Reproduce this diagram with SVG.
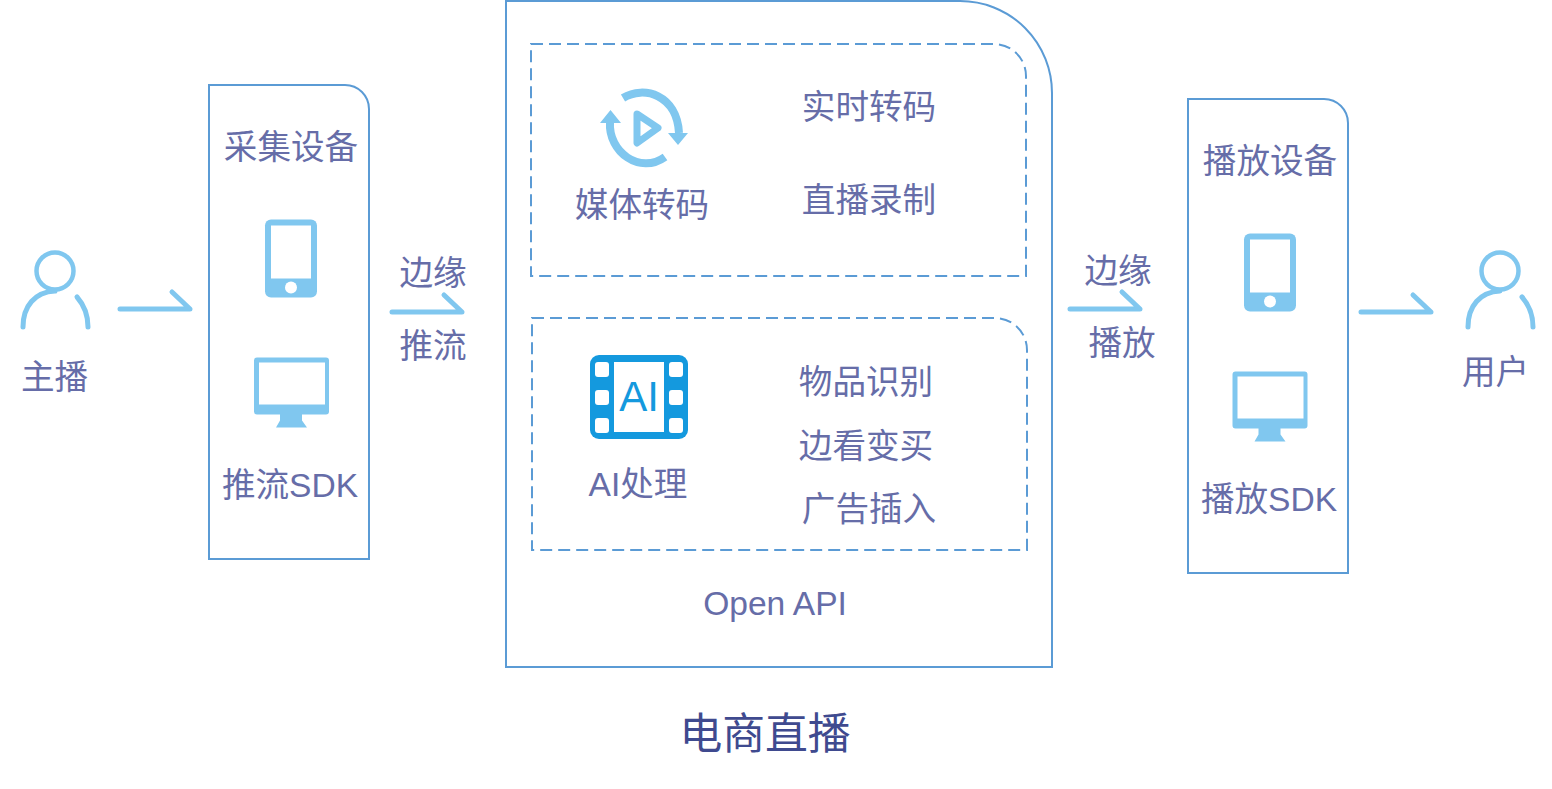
<svg xmlns="http://www.w3.org/2000/svg" width="1552" height="789" viewBox="0 0 1552 789">
<defs>
<style>
.t{font-family:"Liberation Sans","Noto Sans CJK SC",sans-serif;font-size:33.6px;fill:#666da8;text-anchor:middle}
.box{fill:none;stroke:#5b9bd5;stroke-width:2}
.dash{fill:none;stroke:#5b9bd5;stroke-width:2;stroke-dasharray:12 6}
.ln{fill:none;stroke:#80c7ef;stroke-width:5;stroke-linecap:round;stroke-linejoin:round}
.ic{fill:#80c7ef}
</style>
<g id="phone"><rect x="0" y="0" width="52" height="78" rx="6" class="ic"/><rect x="6" y="6" width="40" height="53" fill="#fff"/><circle cx="26" cy="68" r="6" fill="#fff"/></g>
<g id="monitor"><path class="ic" d="M3 0H72a3 3 0 0 1 3 3V54a3 3 0 0 1-3 3H48V63L53 70H22L26 63V57H3a3 3 0 0 1-3-3V3a3 3 0 0 1 3-3Z"/><rect x="5" y="5" width="66" height="42" fill="#fff"/></g>
<g id="person"><circle cx="34" cy="21" r="18.5" fill="none" stroke="#80c7ef" stroke-width="4.5"/><path d="M2 77C2 56 14 42 34 41M56 47C63 55 67 65 67 77" fill="none" stroke="#80c7ef" stroke-width="5" stroke-linecap="round"/></g>
</defs>
<rect width="1552" height="789" fill="#fff"/>
<g id="connectors">
<path class="ln" d="M120 309H190L172 292"/>
<path class="ln" d="M392 312H462L444 295"/>
<path class="ln" d="M1070 309H1140L1122 292"/>
<path class="ln" d="M1361 312H1431L1413 295"/>
</g>
<g id="host"><use href="#person" x="21" y="250"/><text class="t" x="54.500" y="389">主播</text></g>
<g id="capture">
<path class="box" d="M209 85H345A24 24 0 0 1 369 109V559H209Z"/>
<text class="t" x="291" y="159">采集设备</text>
<use href="#phone" x="265" y="219.500"/><use href="#monitor" x="254" y="357.500"/>
<text class="t" x="290" y="497">推流SDK</text>
</g>
<g id="push"><text class="t" x="433" y="285">边缘</text><text class="t" x="433" y="358">推流</text></g>
<g id="live">
<path class="box" d="M506 1H960A92 92 0 0 1 1052 93V667H506Z"/>
<text class="t" x="775" y="615">Open API</text>
</g>
<g id="transcode">
<path class="dash" d="M531 44H994A32 32 0 0 1 1026 76V276H531Z"/>
<g fill="none" stroke="#80c7ef" stroke-width="8">
<path d="M623 98C644 85 677 95 679 133"/>
<path d="M610 122C608 152 640 175 665 157"/>
<path d="M637 114L658 128L637 143Z" stroke-width="7" stroke-linejoin="round"/>
</g>
<path class="ic" d="M600 123L610.500 110L621 123ZM668 133H688L678 145Z"/>
<text class="t" x="642" y="216.500">媒体转码</text>
<text class="t" x="869" y="119">实时转码</text>
<text class="t" x="869" y="212">直播录制</text>
</g>
<g id="ai">
<path class="dash" d="M532 318H995A32 32 0 0 1 1027 350V550H532Z"/>
<rect x="590" y="355" width="98" height="84" rx="9" fill="#1499de"/>
<rect x="614" y="362" width="50" height="70" fill="#fff"/>
<g fill="#fff"><rect x="595" y="362" width="14" height="15" rx="3"/><rect x="595" y="390" width="14" height="15" rx="3"/><rect x="595" y="418" width="14" height="15" rx="3"/><rect x="669" y="362" width="14" height="15" rx="3"/><rect x="669" y="390" width="14" height="15" rx="3"/><rect x="669" y="418" width="14" height="15" rx="3"/></g>
<text x="639" y="411" font-family="Liberation Sans, sans-serif" font-size="42" fill="#1499de" text-anchor="middle">AI</text>
<text class="t" x="638" y="495.500">AI处理</text>
<text class="t" x="866" y="394">物品识别</text>
<text class="t" x="866" y="458">边看变买</text>
<text class="t" x="869" y="521">广告插入</text>
</g>
<g id="title"><text x="765" y="749" font-family="Liberation Sans, Noto Sans CJK SC, sans-serif" font-size="42.800" fill="#3f4a8f" text-anchor="middle">电商直播</text></g>
<g id="play"><text class="t" x="1118" y="282.500">边缘</text><text class="t" x="1122" y="355">播放</text></g>
<g id="player">
<path class="box" d="M1188 99H1324A24 24 0 0 1 1348 123V573H1188Z"/>
<text class="t" x="1270" y="173">播放设备</text>
<use href="#phone" x="1244" y="233.500"/><use href="#monitor" x="1232.500" y="371.500"/>
<text class="t" x="1269" y="510.500">播放SDK</text>
</g>
<g id="user"><use href="#person" x="1466" y="250"/><text class="t" x="1495.500" y="383.500">用户</text></g>
</svg>
